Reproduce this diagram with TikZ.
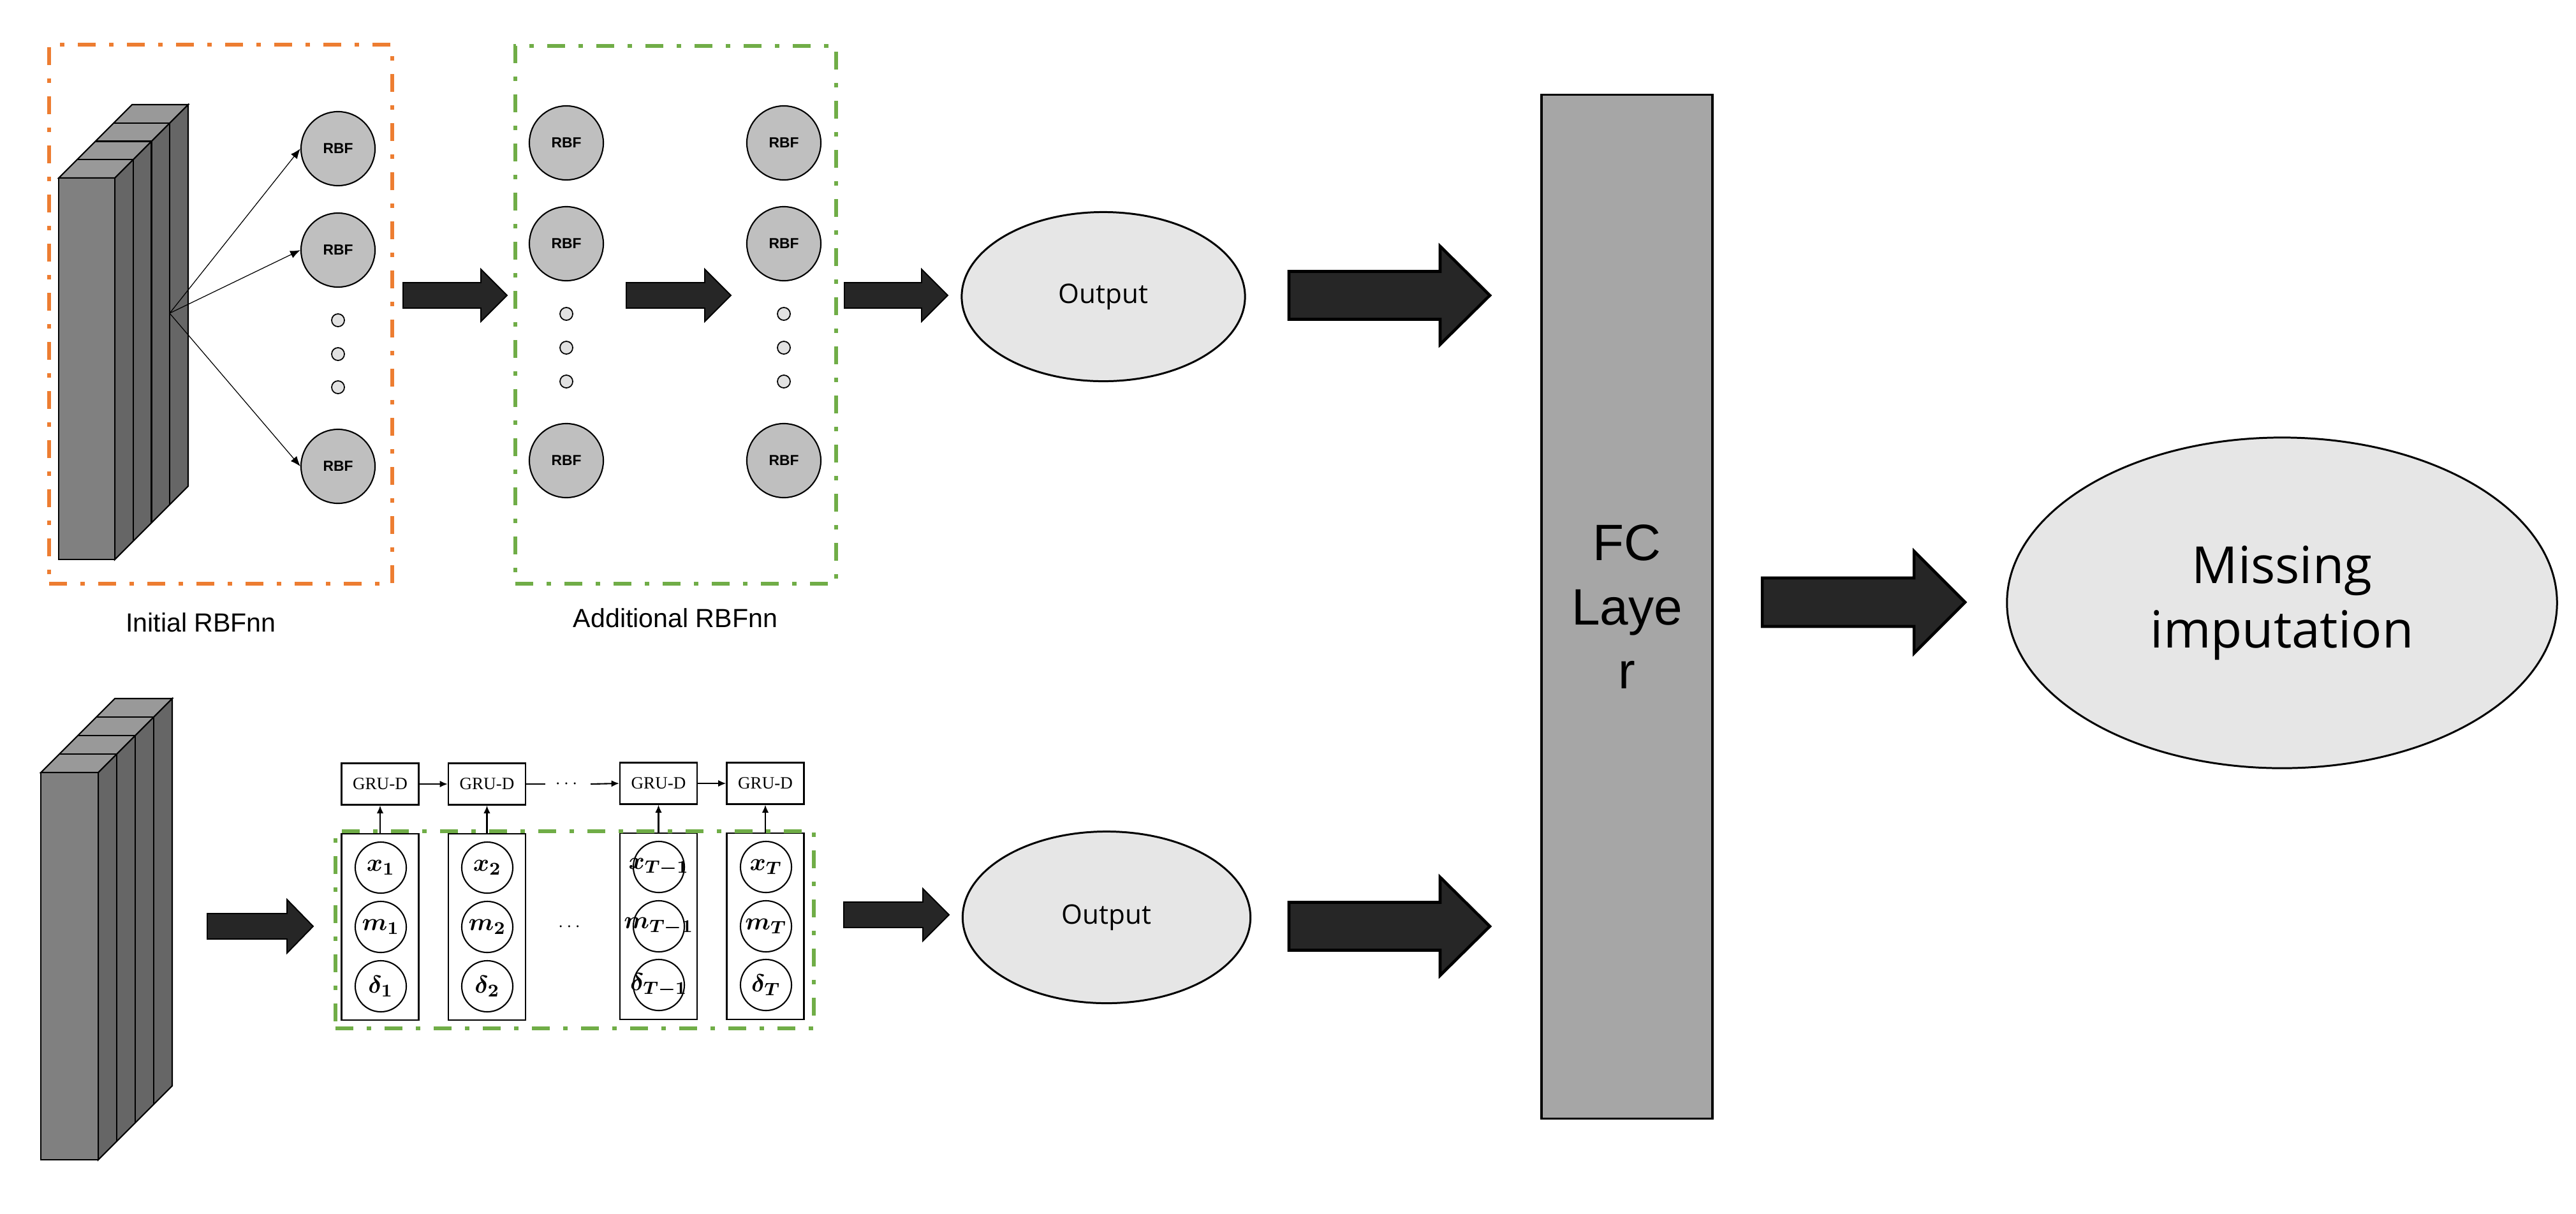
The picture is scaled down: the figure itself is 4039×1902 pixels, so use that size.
\documentclass[tikz,border=0pt]{standalone}
\usepackage{fontspec}
\usepackage{amsmath}
\usetikzlibrary{calc,arrows.meta,shapes.geometric}
\newfontfamily\arialf{Liberation Sans}
\newfontfamily\opensf{Open Sans}
\newfontfamily\timesf{Liberation Serif}
\definecolor{orangeb}{HTML}{ED7D31}
\definecolor{greenb}{HTML}{70AD47}
\definecolor{arrfill}{HTML}{262626}
\definecolor{rbffill}{HTML}{BFBFBF}
\definecolor{dotfill}{HTML}{E2E2E2}
\definecolor{outfill}{HTML}{E6E6E6}
\definecolor{fcfill}{HTML}{A6A6A6}
\newcommand{\blockarr}[6]{%
  \draw[#1] ($(#2)+(0,-#4)$) -- ($(#3)+(-#6,-#4)$) -- ($(#3)+(-#6,-#5)$) -- (#3)
    -- ($(#3)+(-#6,#5)$) -- ($(#3)+(-#6,#4)$) -- ($(#2)+(0,#4)$) -- cycle;}
\newcommand{\slabstack}[5]{%
  \pgfmathsetmacro{\sD}{4*#5}
  \filldraw[stacktop] (#1,#3) -- (#2,#3) -- ($(#2,#3)+(\sD,-\sD)$) -- ($(#1,#3)+(\sD,-\sD)$) -- cycle;
  \filldraw[stackside] (#2,#3) -- ($(#2,#3)+(\sD,-\sD)$) -- ($(#2,#4)+(\sD,-\sD)$) -- (#2,#4) -- cycle;
  \filldraw[stackfront] (#1,#3) rectangle (#2,#4);
  \foreach \k in {1,2,3} {
    \draw[stackline] ($(#1,#3)+(\k*#5,-\k*#5)$) -- ($(#2,#3)+(\k*#5,-\k*#5)$) -- ($(#2,#4)+(\k*#5,-\k*#5)$);
  }}
\newcommand{\vlab}[1]{\makebox[0pt][c]{$\boldsymbol{#1}$}}
\begin{document}
\begin{tikzpicture}[x=0.01cm,y=-0.01cm,
  stacktop/.style={fill=black!40,draw=black,line width=0.6pt,line join=miter},
  stackside/.style={fill=black!60,draw=black,line width=0.6pt},
  stackfront/.style={fill=black!50,draw=black,line width=0.6pt},
  stackline/.style={draw=black,line width=0.6pt},
  rbf/.style={circle,draw=black,line width=0.6pt,fill=rbffill,minimum size=1.16cm,inner sep=0pt,
    font=\arialf\bfseries\fontsize{6.5}{7}\selectfont},
  smalldot/.style={circle,draw=black,line width=0.5pt,fill=dotfill,minimum size=0.2cm,inner sep=0pt},
  thinarr/.style={draw=black,line width=0.35pt,-{Latex[length=4.5pt,width=3.5pt]}},
  fatarr/.style={draw=black,fill=arrfill,line width=0.55pt,line join=miter},
  bigarr/.style={draw=black,fill=arrfill,line width=1.3pt,line join=miter},
  obox/.style={draw=orangeb,line width=1.7pt,dash pattern=on 7.97pt off 5.97pt on 2pt off 5.97pt,rectangle,inner sep=0pt},
  gbox/.style={draw=greenb,line width=1.7pt,dash pattern=on 7.97pt off 5.97pt on 2pt off 5.97pt,rectangle,inner sep=0pt},
  caption/.style={font=\arialf\fontsize{11.7}{14}\selectfont,inner sep=0pt},
  outell/.style={ellipse,draw=black,line width=0.85pt,fill=outfill,inner sep=0pt,
    font=\opensf\fontsize{12}{14}\selectfont},
  grubox/.style={rectangle,draw=black,line width=0.6pt,minimum width=1.21cm,minimum height=0.65cm,inner sep=0pt,
    font=\timesf\fontsize{7.7}{9}\selectfont},
  colbox/.style={rectangle,draw=black,line width=0.6pt,minimum width=1.21cm,minimum height=2.92cm,inner sep=0pt},
  varc/.style={circle,draw=black,line width=0.6pt,minimum size=0.8cm,inner sep=0pt,font=\fontsize{11}{13}\selectfont},
  gruarr/.style={draw=black,line width=0.6pt,-{Latex[length=3.5pt,width=3pt]}},
  gruline/.style={draw=black,line width=0.6pt},
  dotstxt/.style={inner xsep=0.15cm,inner ysep=0pt,font=\fontsize{7.7}{9}\selectfont}
]
\useasboundingbox (0,0) rectangle (4039,1902);

% ---------- upper branch ----------
\node[obox,minimum width=5.38cm,minimum height=8.45cm] (ibox) at (346,492.5) {};
\node[gbox,minimum width=5.03cm,minimum height=8.43cm] (abox) at (1059.5,493.5) {};

\slabstack{92}{180}{279}{877}{28.75}
\coordinate (src) at (266,491);

\node[rbf] (r1) at (530,233) {RBF};
\node[rbf] (r2) at (530,392) {RBF};
\node[rbf] (r3) at (530,731) {RBF};
\node[smalldot] (d1) at (530,502) {};
\node[smalldot] (d2) at (530,555) {};
\node[smalldot] (d3) at (530,607) {};
\draw[thinarr] (src) -- (r1.west);
\draw[thinarr] (src) -- (r2.west);
\draw[thinarr] (src) -- (r3.west);

\node[caption] (icap) at (315,976) {Initial RBFnn};

\node[rbf] (a1) at (888,224) {RBF};
\node[rbf] (a2) at (888,382) {RBF};
\node[rbf] (a3) at (888,722) {RBF};
\node[smalldot] (ad1) at (888,492) {};
\node[smalldot] (ad2) at (888,545) {};
\node[smalldot] (ad3) at (888,598) {};
\node[rbf] (b1) at (1229,224) {RBF};
\node[rbf] (b2) at (1229,382) {RBF};
\node[rbf] (b3) at (1229,722) {RBF};
\node[smalldot] (bd1) at (1229,492) {};
\node[smalldot] (bd2) at (1229,545) {};
\node[smalldot] (bd3) at (1229,598) {};

\node[caption] (acap) at (1059,969) {Additional RBFnn};

\node[outell,minimum width=4.44cm,minimum height=2.65cm] (out1) at (1730,465) {Output};

\coordinate (u1s) at (632,463); \coordinate (u1t) at (795,463);
\coordinate (u2s) at (982,463); \coordinate (u2t) at (1146,463);
\coordinate (u3s) at (1324,463); \coordinate (u3t) at (1486,463);
\blockarr{fatarr}{u1s}{u1t}{20}{41}{41}
\blockarr{fatarr}{u2s}{u2t}{20}{41}{41}
\blockarr{fatarr}{u3s}{u3t}{20}{41}{41}

% ---------- lower branch ----------
\slabstack{64}{154}{1211}{1818}{29}

\node[grubox] (g1) at (596,1229) {GRU-D};
\node[grubox] (g2) at (763.5,1229) {GRU-D};
\node[grubox] (g3) at (1032.5,1228) {GRU-D};
\node[grubox] (g4) at (1200,1228) {GRU-D};
\node[dotstxt] (gdots) at (890.5,1229) {$\cdots$};

\node[colbox] (c1) at (596,1453) {};
\node[colbox] (c2) at (763.5,1453) {};
\node[colbox] (c3) at (1032.5,1452) {};
\node[colbox] (c4) at (1200,1452) {};

\node[varc] (x1) at (597,1360) {\vlab{x_{1}}};
\node[varc] (m1) at (597,1453) {\vlab{m_{1}}};
\node[varc] (e1) at (597,1546) {\vlab{\delta_{1}}};
\node[varc] (x2) at (764,1360) {\vlab{x_{2}}};
\node[varc] (m2) at (764,1453) {\vlab{m_{2}}};
\node[varc] (e2) at (764,1546) {\vlab{\delta_{2}}};
\node[varc] (x3) at (1033,1359) {\vlab{x_{T-1}}};
\node[varc] (m3) at (1033,1452) {\vlab{m_{T-1}}};
\node[varc] (e3) at (1033,1544) {\vlab{\delta_{T-1}}};
\node[varc] (x4) at (1201,1359) {\vlab{x_{T}}};
\node[varc] (m4) at (1201,1452) {\vlab{m_{T}}};
\node[varc] (e4) at (1201,1544) {\vlab{\delta_{T}}};
\node[dotstxt] (cdots) at (895,1453) {$\cdots$};

\node[gbox,minimum width=7.50cm,minimum height=3.09cm] (gbox2) at (901,1457.5) {};

\draw[gruarr] (c1.north) -- (g1.south);
\draw[gruarr] (c2.north) -- (g2.south);
\draw[gruarr] (c3.north) -- (g3.south);
\draw[gruarr] (c4.north) -- (g4.south);
\draw[gruarr] (g1.east) -- (g2.west);
\draw[gruline] (g2.east) -- (gdots.west);
\draw[gruarr] (gdots.east) -- (g3.west);
\draw[gruarr] (g3.east) -- (g4.west);

\node[outell,minimum width=4.51cm,minimum height=2.69cm] (out2) at (1735,1438) {Output};

\coordinate (l1s) at (325,1452); \coordinate (l1t) at (491,1452);
\coordinate (l2s) at (1323,1434); \coordinate (l2t) at (1488,1434);
\blockarr{fatarr}{l1s}{l1t}{20}{42}{41}
\blockarr{fatarr}{l2s}{l2t}{20}{41}{41}

% ---------- right part ----------
\node[rectangle,draw=black,line width=1.1pt,fill=fcfill,minimum width=2.68cm,minimum height=16.04cm,
  align=center,font=\arialf\fontsize{22.8}{28.5}\selectfont] (fc) at (2551,951) {FC\\Laye\\r};

\node[ellipse,draw=black,line width=0.85pt,fill=outfill,minimum width=8.62cm,minimum height=5.18cm,inner sep=0pt,
  align=center,font=\opensf\fontsize{22.8}{28.7}\selectfont] (miss) at (3578,945) {Missing\\imputation};

\coordinate (b1s) at (2021,463); \coordinate (b1t) at (2336,463);
\coordinate (b2s) at (2021,1452); \coordinate (b2t) at (2336,1452);
\coordinate (b3s) at (2763,944); \coordinate (b3t) at (3081,944);
\blockarr{bigarr}{b1s}{b1t}{37.5}{77}{78}
\blockarr{bigarr}{b2s}{b2t}{37.5}{77}{78}
\blockarr{bigarr}{b3s}{b3t}{38}{80}{80}
\end{tikzpicture}
\end{document}
